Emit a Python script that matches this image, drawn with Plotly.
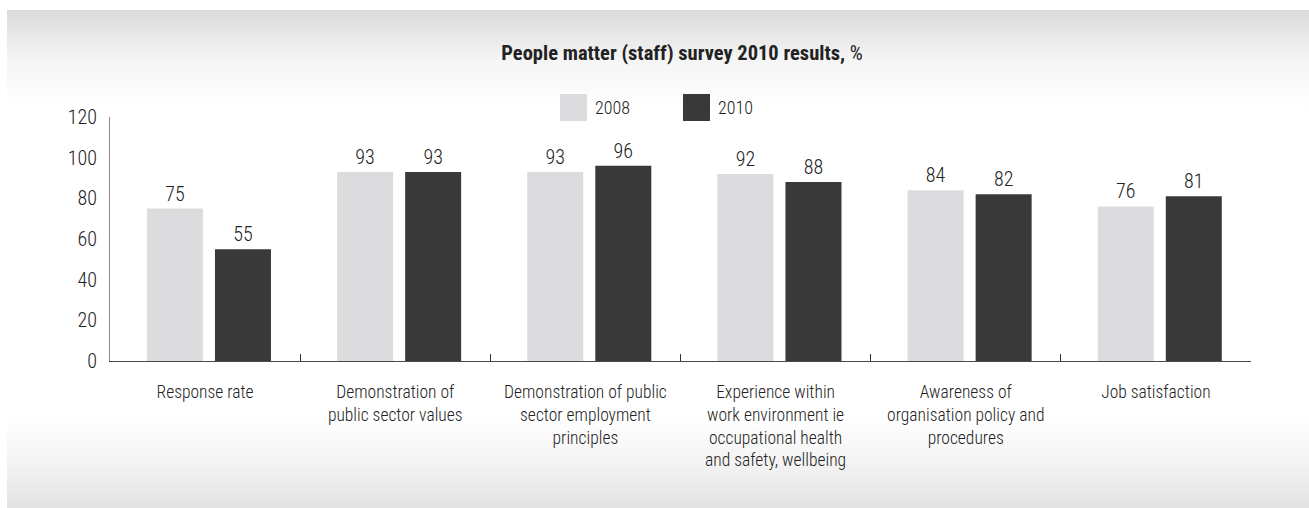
import base64
import plotly.graph_objects as go

# Survey categories and results (%)
categories = [
    "Response rate",
    "Demonstration of<br>public sector values",
    "Demonstration of public<br>sector employment<br>principles",
    "Experience within<br>work environment ie<br>occupational health<br>and safety, wellbeing",
    "Awareness of<br>organisation policy and<br>procedures",
    "Job satisfaction",
]
values_2008 = [75, 93, 93, 92, 84, 76]
values_2010 = [55, 93, 96, 88, 82, 81]
series_names = ["2008", "2010"]
y_ticks = [0, 20, 40, 60, 80, 100, 120]

FONT = "Roboto Condensed, Liberation Sans Narrow, Arial Narrow, sans-serif"
LIGHT = "#dcdcde"
DARK = "#393939"
TEXT = "#222222"
WEIGHT = 300

W, H = 1309, 508
L, R, T, B = 110, 58, 117, 147
PW, PH = W - L - R, H - T - B

# Panel background with soft grey fade at top and bottom
svg = f"""<svg xmlns='http://www.w3.org/2000/svg' width='{W}' height='{H}' viewBox='0 0 {W} {H}' preserveAspectRatio='none'>
<defs><linearGradient id='g' x1='0' y1='0' x2='0' y2='1'>
<stop offset='0' stop-color='#dadada'/>
<stop offset='0.1' stop-color='#f5f5f5'/>
<stop offset='0.2' stop-color='#ffffff'/>
<stop offset='0.82' stop-color='#ffffff'/>
<stop offset='0.91' stop-color='#f3f3f3'/>
<stop offset='1' stop-color='#e3e3e3'/>
</linearGradient></defs>
<rect x='0' y='0' width='{W}' height='{H}' fill='#ffffff'/>
<rect x='7' y='10' width='{W - 7}' height='{H - 10}' fill='url(#g)'/>
</svg>"""
bg_src = "data:image/svg+xml;base64," + base64.b64encode(svg.encode()).decode()


def px_x(px):
    return (px - L) / PW


def px_y(py):
    return (H - B - py) / PH


fig = go.Figure()
bar_width = 0.2945
offsets = [-0.306, 0.052]
for name, vals, color, off in zip(series_names, [values_2008, values_2010], [LIGHT, DARK], offsets):
    fig.add_trace(go.Bar(
        x=categories, y=vals, name=name,
        marker=dict(color=color, line=dict(width=0)),
        width=bar_width, offset=off,
        text=[str(v) for v in vals], textposition="outside",
        textfont=dict(family=FONT, size=20, color=TEXT, weight=WEIGHT),
        cliponaxis=False, showlegend=False,
    ))

# Legend swatches and labels
shapes = []
annotations = []
for name, color, sx in zip(series_names, [LIGHT, DARK], [560, 683]):
    shapes.append(dict(type="rect", xref="paper", yref="paper",
                       x0=px_x(sx), x1=px_x(sx + 27), y0=px_y(121), y1=px_y(94),
                       fillcolor=color, line=dict(width=0)))
    annotations.append(dict(xref="paper", yref="paper", x=px_x(sx + 33), y=px_y(107),
                            xanchor="left", yanchor="middle", showarrow=False,
                            text=name, font=dict(family=FONT, size=18, color=TEXT, weight=WEIGHT)))

fig.update_layout(
    width=W, height=H,
    margin=dict(l=L, r=R, t=T, b=B, pad=0),
    paper_bgcolor="rgba(0,0,0,0)", plot_bgcolor="rgba(0,0,0,0)",
    barmode="overlay",
    title=dict(
        text="<b>People matter (staff) survey 2010 results,</b> %",
        x=682 / W, xanchor="center", xref="container",
        y=1 - 53 / H, yanchor="middle", yref="container",
        font=dict(family=FONT, size=20.5, color=TEXT),
        automargin=False,
    ),
    images=[dict(source=bg_src, xref="paper", yref="paper",
                 x=px_x(0), y=px_y(0), sizex=W / PW, sizey=H / PH,
                 xanchor="left", yanchor="top", sizing="stretch", layer="below")],
    shapes=shapes,
    annotations=annotations,
    xaxis=dict(
        type="category", range=[-0.5, 5.5], automargin=False, tickangle=0,
        showline=True, linecolor="#4a4a4a", linewidth=1,
        ticks="inside", tickson="boundaries", ticklen=7, tickcolor="#333333", tickwidth=1,
        showgrid=False, zeroline=False,
        ticklabelstandoff=15,
        tickfont=dict(family=FONT, size=17.5, color=TEXT, weight=WEIGHT),
    ),
    yaxis=dict(
        range=[0, 120], tickvals=y_ticks, automargin=False,
        showline=True, linecolor="#8a8a8a", linewidth=1,
        ticks="", showgrid=False, zeroline=False,
        ticklabelstandoff=8,
        tickfont=dict(family=FONT, size=20, color=TEXT, weight=WEIGHT),
    ),
)

fig.write_html("out.html")
